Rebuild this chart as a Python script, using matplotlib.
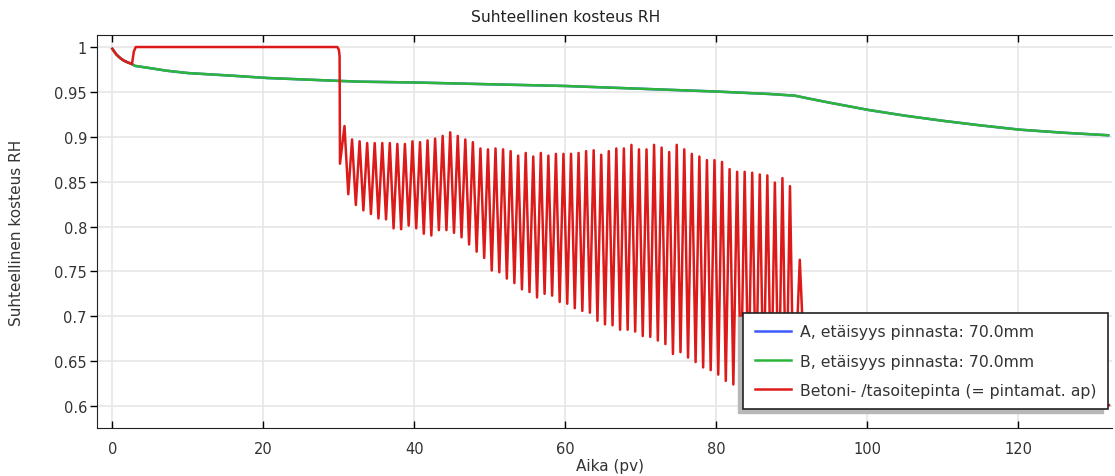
import numpy as np
import matplotlib
matplotlib.use("Agg")
import matplotlib.pyplot as plt
from matplotlib.patches import Rectangle

# A ja B (70 mm) - kayrat ovat paallekkain
ab_t = [0, 0.5, 1, 1.5, 2, 2.6, 3, 5, 7.2, 10, 16, 20.5, 29.3, 32.8, 40, 50, 60, 70,
        80, 87, 90.4, 92, 95, 100.2, 105, 110, 115, 120.2, 126, 131.9]
ab_rh = [0.998, 0.992, 0.988, 0.985, 0.983, 0.981, 0.979, 0.9765, 0.9736, 0.971, 0.968,
         0.9655, 0.9625, 0.9614, 0.9605, 0.9585, 0.9566, 0.9535, 0.9504, 0.9477, 0.9458,
         0.943, 0.938, 0.9298, 0.9235, 0.9178, 0.9127, 0.9079, 0.9045, 0.9017]

# pinta: alku, vuorokausivaihtelu (huiput / pohjat), loppu
surf_start_t = [0, 0.5, 1.0, 1.5, 2.0, 2.6, 2.85, 3.1, 29.8, 30.0, 30.1, 30.15]
surf_start_rh = [0.998, 0.992, 0.988, 0.985, 0.983, 0.981, 0.995, 1.0, 1.0, 0.997, 0.99, 0.87]

first_peak_t = 30.75
peak_rh = [0.912, 0.897, 0.895, 0.893, 0.893, 0.893, 0.893, 0.892, 0.892, 0.895,
           0.894, 0.896, 0.898, 0.901, 0.905, 0.901, 0.897, 0.894, 0.887, 0.886,
           0.887, 0.886, 0.884, 0.879, 0.882, 0.878, 0.882, 0.879, 0.881, 0.881,
           0.881, 0.882, 0.884, 0.885, 0.880, 0.884, 0.887, 0.887, 0.891, 0.886,
           0.886, 0.891, 0.888, 0.883, 0.891, 0.886, 0.881, 0.878, 0.874, 0.874,
           0.872, 0.864, 0.861, 0.861, 0.860, 0.858, 0.857, 0.849, 0.854, 0.845]
trough_rh = [0.836, 0.824, 0.818, 0.814, 0.809, 0.808, 0.798, 0.797, 0.801, 0.798,
             0.792, 0.790, 0.796, 0.796, 0.793, 0.788, 0.780, 0.772, 0.765, 0.751,
             0.749, 0.742, 0.737, 0.730, 0.727, 0.721, 0.725, 0.723, 0.716, 0.714,
             0.709, 0.706, 0.704, 0.695, 0.691, 0.690, 0.685, 0.685, 0.683, 0.678,
             0.677, 0.673, 0.669, 0.658, 0.660, 0.654, 0.649, 0.643, 0.640, 0.635,
             0.628, 0.624, 0.619, 0.615, 0.611, 0.607, 0.603, 0.599, 0.594]

surf_end_t = [90.25, 91.05, 91.9, 100, 110, 120, 132]
surf_end_rh = [0.593, 0.763, 0.598, 0.597, 0.598, 0.599, 0.601]

labels = ["A, etäisyys pinnasta: 70.0mm",
          "B, etäisyys pinnasta: 70.0mm",
          "Betoni- /tasoitepinta (= pintamat. ap)"]

# huiput ja pohjat vuorotellen
peak_t = first_peak_t + np.arange(len(peak_rh))
trough_t = peak_t[:len(trough_rh)] + 0.5
osc_t = np.empty(len(peak_rh) + len(trough_rh))
osc_rh = np.empty_like(osc_t)
osc_t[0::2], osc_t[1::2] = peak_t, trough_t
osc_rh[0::2], osc_rh[1::2] = peak_rh, trough_rh

surf_t = np.concatenate([surf_start_t, osc_t, surf_end_t])
surf_rh = np.concatenate([surf_start_rh, osc_rh, surf_end_rh])

W, H = 1115, 477
fig = plt.figure(figsize=(W / 100, H / 100), dpi=100)
x0, x1, y0, y1 = 96.7, 1112, 36, 429.3
ax = fig.add_axes([x0 / W, 1 - y1 / H, (x1 - x0) / W, (y1 - y0) / H])

ax.plot(ab_t, ab_rh, color="#3d5afe", lw=1.8, label=labels[0], zorder=3)
ax.plot(ab_t, ab_rh, color="#2db53a", lw=1.8, label=labels[1], zorder=3)
ax.plot(surf_t, surf_rh, color="#dd1a1a", lw=1.8, label=labels[2], zorder=4)

ax.set_xlim(-2.07, 132.4)
ax.set_ylim(0.5752, 1.0134)
ax.set_xticks([0, 20, 40, 60, 80, 100, 120])
ax.set_yticks([0.6, 0.65, 0.7, 0.75, 0.8, 0.85, 0.9, 0.95, 1.0])
ax.set_yticklabels(["0.6", "0.65", "0.7", "0.75", "0.8", "0.85", "0.9", "0.95", "1"])
ax.grid(True, color="#e6e6e6", lw=1.2)
ax.set_axisbelow(True)
ax.tick_params(axis="x", direction="in", top=True, length=5, width=1, pad=9,
               labelsize=10.5, labelcolor="#333333")
ax.tick_params(axis="y", direction="out", length=5, width=1, pad=2,
               labelsize=10.5, labelcolor="#333333")
ax.spines["right"].set_visible(False)
for s in ["left", "bottom", "top"]:
    ax.spines[s].set_color("#222222")

fig.text(566 / W, 1 - 18 / H, "Suhteellinen kosteus RH", ha="center", va="center",
         fontsize=11.2, color="#222222")
fig.text(610 / W, 1 - 467 / H, "Aika (pv)", ha="center", va="center",
         fontsize=11, color="#333333")
fig.text(17 / W, 1 - 233 / H, "Suhteellinen kosteus RH", ha="center", va="center",
         rotation=90, fontsize=11, color="#333333")

leg = ax.legend(loc="lower right", bbox_to_anchor=(0.996, 0.049), borderaxespad=0,
                fontsize=11.3, frameon=True, fancybox=False, framealpha=1,
                handlelength=2.3, handletextpad=0.6, labelspacing=0.9, borderpad=0.72)
leg.get_frame().set_edgecolor("#222222")
leg.get_frame().set_facecolor("white")
leg.get_frame().set_linewidth(1.2)
for t in leg.get_texts():
    t.set_color("#333333")

# varjo vasemmalle alas
fig.canvas.draw()
bb = leg.get_window_extent().transformed(ax.transAxes.inverted())
dx, dy = 5 / (x1 - x0), 4 / (y1 - y0)
ax.add_patch(Rectangle((bb.x0 - dx, bb.y0 - dy), bb.width, bb.height,
                       transform=ax.transAxes, color="#b8b8b8", zorder=4.9,
                       clip_on=False))

fig.savefig("out.png", dpi=100)
